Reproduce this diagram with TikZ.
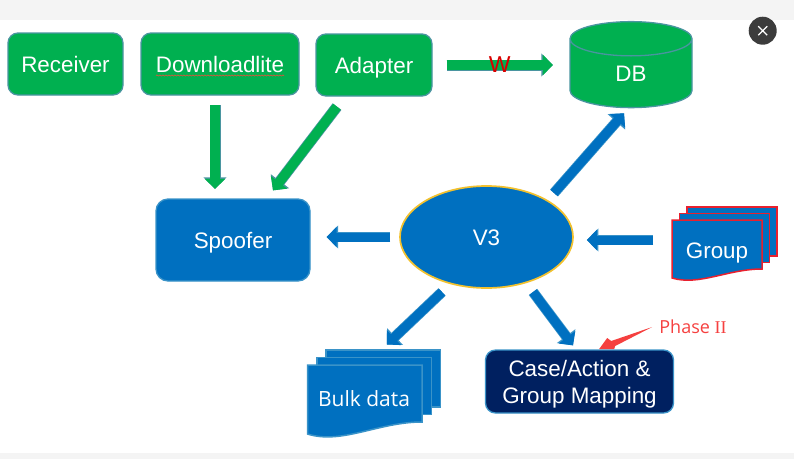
\documentclass[tikz,border=0pt]{standalone}
\usepackage{fontspec}
\setmainfont{Liberation Sans}
\newfontfamily\noteface{Open Sans}
\newfontfamily\romanface{Liberation Serif}
\usetikzlibrary{arrows.meta,shapes.geometric,decorations.pathmorphing}
\definecolor{bandgray}{HTML}{F4F4F4}
\definecolor{boxgreen}{HTML}{00B050}
\definecolor{edgegreen}{HTML}{4A95A0}
\definecolor{boxblue}{HTML}{0070C0}
\definecolor{edgeblue}{HTML}{3A93C8}
\definecolor{boxnavy}{HTML}{002060}
\definecolor{ringgold}{HTML}{F2C12E}
\definecolor{stackred}{HTML}{E8202E}
\definecolor{notered}{HTML}{F5403F}
\definecolor{closegray}{HTML}{3C3C3C}
\definecolor{spellred}{HTML}{E8503A}
\tikzset{
  mainfont/.style={font=\fontsize{22.4}{27}\selectfont,text=white},
  onetext/.style={mainfont,text height=17pt,text depth=0pt},
  box/.style={rounded corners=10pt,line width=1.3pt,align=center},
  greenbox/.style={box,onetext,draw=edgegreen,fill=boxgreen,minimum height=62pt},
  bluebox/.style={box,onetext,draw=edgeblue,fill=boxblue},
  greenarrow/.style={line width=9.5pt,draw=boxgreen,-{Triangle[width=20pt,length=10pt]},
    preaction={draw=edgegreen,line width=11pt,-{Triangle[width=22.5pt,length=11.5pt]}}},
  bluearrow/.style={line width=9pt,draw=boxblue,-{Triangle[width=20pt,length=10pt]},
    preaction={draw=edgeblue,line width=10.5pt,-{Triangle[width=22.5pt,length=11.5pt]}}},
  spellmark/.style={draw=spellred,line width=.6pt,decorate,
    decoration={snake,amplitude=.6pt,segment length=3pt}},
}
\def\mydocstack#1#2#3#4#5#6#7#8#9{
  % 1: name, 2: x, 3: y (top left of the front sheet)
  % 4: width, 5: height at the right, 6: drop at the left
  % 7: step x, 8: step y, 9: border colour
  \begin{scope}[shift={(#2,#3)},draw=#9,fill=boxblue,line width=1.5pt,line join=miter]
    \filldraw (2*#7,-2*#8) rectangle ++(#4,#5);
    \filldraw (#7,-#8) rectangle ++(#4,#5);
    \filldraw (0,0) -- (#4,0) -- (#4,#5)
      .. controls (.62*#4,#5) and (.3*#4,#5+1.9*#6) .. (0,#5+#6) -- cycle;
    \node (#1) at (.5*#4,.5*#5+.5*#6) [minimum width=#4,minimum height=#5+#6,inner sep=0pt] {};
  \end{scope}
}
\begin{document}
\begin{tikzpicture}[x=1pt,y=-1pt]
  \useasboundingbox (0,0) rectangle (794,459);
  \fill[bandgray] (0,0) rectangle (794,20);
  \fill[bandgray] (0,452.5) rectangle (794,459);

  % top row
  \node[greenbox,minimum width=115pt] (receiver) at (65.5,64) {Receiver};
  \node[greenbox,minimum width=158pt] (download) at (220,64) {Downloadlite};
  \node[greenbox,minimum width=116pt] (adapter) at (374,65) {Adapter};
  \draw[spellmark] ([shift={(-64,11.5)}]download.center) -- ([shift={(64,11.5)}]download.center);
  \node[cylinder,shape border rotate=90,aspect=1.1,draw=edgegreen,fill=boxgreen,line width=1.3pt,
    minimum height=86pt,minimum width=122pt,mainfont,text height=15pt,text depth=0pt,inner sep=0pt] (db) at (631,73.5) {DB};

  % middle row
  \node[bluebox,rounded corners=12pt,minimum width=154pt,minimum height=82pt] (spoofer) at (233,240) {Spoofer};
  \node[ellipse,draw=ringgold,fill=boxblue,line width=1.7pt,minimum width=173pt,minimum height=102pt,
    onetext,inner sep=0pt] (v3) at (486.5,237) {V3};
  \mydocstack{group}{672}{220}{90}{49}{9}{7.5}{6.5}{stackred}
  \node[onetext] (grouptext) at (717,249.5) {Group};

  % bottom row
  \mydocstack{bulk}{307.5}{365}{114.5}{57}{12}{9.3}{7.5}{edgeblue}
  \node[text=white,font=\noteface\fontsize{21}{25}\selectfont] (bulktext) at (364,399) {Bulk data};
  \node[box,draw=edgeblue,fill=boxnavy,minimum width=188pt,minimum height=63pt,inner sep=0pt] (case) at (579.5,381.5) {};
  \node[mainfont,align=center,inner sep=0pt] (casetext) at (579.5,384) {Case/Action \&\\Group Mapping};
  \node[text=notered,font=\noteface\fontsize{18}{21}\selectfont,inner sep=0pt] (phase) at (693,327) {Phase {\romanface II}};

  % connectors
  \draw[greenarrow] ([shift={(-5,9.5)}]download.south) -- ([shift={(-18,-9.5)}]spoofer.north);
  \draw[greenarrow] ([shift={(-37,10)}]adapter.south) -- ([shift={(40,-8)}]spoofer.north);
  \draw[greenarrow] ([shift={(14,0)}]adapter.east) -- ([shift={(-16.5,-8.5)}]db.center -| db.west)
    node[midway,text=red!85!black,font=\fontsize{23}{27}\selectfont,inner sep=0pt] (wlabel) {W};
  \draw[bluearrow] ([shift={(-9,0)}]v3.west) -- ([shift={(16,-3)}]spoofer.east);
  \draw[bluearrow] ([shift={(67.5,-44)}]v3.center) -- ([shift={(-7,5)}]db.south);
  \draw[bluearrow] ([shift={(-64,-9)}]group.center) -- ([shift={(13,3)}]v3.east);
  \draw[bluearrow] ([shift={(-44.5,55)}]v3.center) -- ([shift={(22,-55)}]bulk.center);
  \draw[bluearrow] ([shift={(46.5,55)}]v3.center) -- ([shift={(-6.5,-4)}]case.north);

  % note pointer
  \coordinate (phasetail) at ([shift={(-7,0)}]phase.west);
  \fill[notered] (phasetail) -- ++(-41,14) -- ++(-4,-3) -- ++(-8,11) -- ++(15,0) -- ++(1,-3) -- cycle;

  % close button
  \node[circle,fill=closegray,minimum size=28pt,inner sep=0pt] (closebtn) at (762.7,30.7) {};
  \draw[white,line width=1.2pt] ([shift={(-4.5,-4.5)}]closebtn.center) -- ([shift={(4.5,4.5)}]closebtn.center)
    ([shift={(-4.5,4.5)}]closebtn.center) -- ([shift={(4.5,-4.5)}]closebtn.center);
\end{tikzpicture}
\end{document}
